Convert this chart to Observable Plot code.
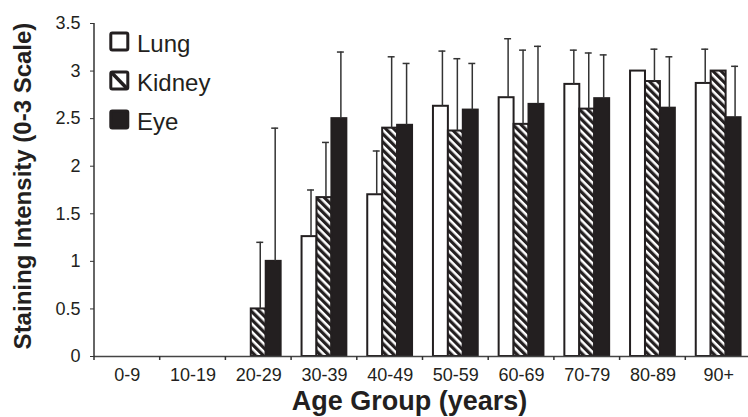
<!DOCTYPE html>
<html>
<head>
<meta charset="utf-8">
<script src="https://cdn.jsdelivr.net/npm/d3@7"></script>
<script src="https://cdn.jsdelivr.net/npm/@observablehq/plot@0.6"></script>
<style>
  body { margin: 0; background: #fff; }
  #chart { width: 748px; height: 417px; overflow: hidden; }
</style>
</head>
<body>
<div id="chart"></div>
<script>
// ---- data ----
const categories = ["0-9", "10-19", "20-29", "30-39", "40-49", "50-59", "60-69", "70-79", "80-89", "90+"];
const series = ["Lung", "Kidney", "Eye"];
const lungValues   = [null, null, null, 1.26, 1.70, 2.63, 2.72, 2.86, 3.00, 2.87];
const lungErrors   = [null, null, null, 0.49, 0.46, 0.58, 0.62, 0.36, null, 0.36];
const kidneyValues = [null, null, 0.50, 1.67, 2.40, 2.37, 2.44, 2.60, 2.89, 3.00];
const kidneyErrors = [null, null, 0.70, 0.58, 0.75, 0.76, 0.78, 0.59, 0.34, null];
const eyeValues    = [null, null, 1.00, 2.50, 2.43, 2.59, 2.65, 2.71, 2.61, 2.51];
const eyeErrors    = [null, null, 1.40, 0.70, 0.65, 0.49, 0.61, 0.46, 0.54, 0.54];
const yTicks = [0, 0.5, 1, 1.5, 2, 2.5, 3, 3.5];
const yTitle = "Staining Intensity (0-3 Scale)";
const xTitle = "Age Group (years)";

const valuesBySeries = [lungValues, kidneyValues, eyeValues];
const errorsBySeries = [lungErrors, kidneyErrors, eyeErrors];

// one row per category x series (missing values stay null so every facet exists)
const rows = [];
categories.forEach((cat, i) => {
  series.forEach((s, j) => {
    const v = valuesBySeries[j][i];
    const e = errorsBySeries[j][i];
    rows.push({cat, series: s, value: v, top: (v != null && e != null) ? v + e : null});
  });
});

const ink = "#231f20";
const font = "'Liberation Sans', Arial, Helvetica, sans-serif";

const plot = Plot.plot({
  width: 748,
  height: 417,
  marginLeft: 94,
  marginRight: -3,
  marginTop: 23,
  marginBottom: 61,
  style: {fontFamily: font, color: ink, background: "white", overflow: "visible"},
  fx: {domain: categories, padding: 0, round: false, label: null},
  x: {domain: series, paddingInner: 0, paddingOuter: 0.7, round: false, axis: null},
  y: {domain: [0, 3.5], label: null},
  color: {domain: series, range: ["white", "url(#hatch)", ink]},
  marks: [
    Plot.axisY({ticks: yTicks, tickSize: 4, tickPadding: 10, fontSize: 18, tickFormat: d => String(d), label: null, stroke: "#333"}),
    Plot.axisFx({anchor: "bottom", tickSize: 0, tickPadding: 12, fontSize: 18, label: null}),
    Plot.barY(rows, {fx: "cat", x: "series", y: "value", fill: "series", stroke: ink, strokeWidth: 2}),
    Plot.ruleX(rows, {fx: "cat", x: "series", y1: "value", y2: "top", stroke: "#333", strokeWidth: 1.5, dx: 1.5}),
    Plot.tickY(rows, {fx: "cat", x: "series", y: "top", stroke: "#333", strokeWidth: 1.5, insetLeft: 4, insetRight: 4, dx: 1.5}),
    Plot.ruleY([0], {stroke: "#444", strokeWidth: 1.5})
  ]
});

document.getElementById("chart").appendChild(plot);

// ---- decorations using the plot's own scales ----
const svg = d3.select(plot);
const defs = svg.insert("defs", ":first-child");
const pat = defs.append("pattern")
  .attr("id", "hatch")
  .attr("patternUnits", "userSpaceOnUse")
  .attr("width", 5.7).attr("height", 20)
  .attr("patternTransform", "rotate(-45)");
pat.append("rect").attr("width", 5.7).attr("height", 20).attr("fill", "white");
pat.append("rect").attr("width", 3.2).attr("height", 20).attr("fill", ink);

const fx = plot.scale("fx");
const y = plot.scale("y");
const y0 = y.apply(0), yTop = y.apply(3.5);
const xLeft = fx.apply(categories[0]);
const step = fx.bandwidth;

// y axis line
svg.append("line").attr("x1", xLeft).attr("x2", xLeft).attr("y1", y0 + 0.75).attr("y2", yTop)
  .attr("stroke", "#333").attr("stroke-width", 1.5);
// boundary ticks on the x axis
categories.concat([null]).forEach((c, i) => {
  const xx = xLeft + i * step;
  svg.append("line").attr("x1", xx).attr("x2", xx).attr("y1", y0).attr("y2", y0 + 4)
    .attr("stroke", "#333").attr("stroke-width", 1.5);
});

// axis titles
svg.append("text")
  .attr("transform", `translate(31,186) rotate(-90)`)
  .attr("text-anchor", "middle")
  .attr("font-family", font).attr("font-weight", "bold").attr("font-size", 24)
  .attr("fill", ink).text(yTitle);
svg.append("text")
  .attr("x", xLeft + step * categories.length / 2 - 13).attr("y", 410)
  .attr("text-anchor", "middle")
  .attr("font-family", font).attr("font-weight", "bold").attr("font-size", 27)
  .attr("fill", ink).text(xTitle);

// legend
const legendFills = ["white", "white", ink];
const lg = svg.append("g");
series.forEach((s, i) => {
  const base = 52 + i * 39;
  const g = lg.append("g");
  g.append("rect").attr("x", 110.8).attr("y", base - 19).attr("width", 17).attr("height", 17)
    .attr("fill", legendFills[i]).attr("stroke", ink).attr("stroke-width", 3).attr("rx", 1.5);
  if (s === "Kidney") {
    g.append("line").attr("x1", 111.5).attr("y1", base - 18.5).attr("x2", 127).attr("y2", base - 2.5)
      .attr("stroke", ink).attr("stroke-width", 3.5);
  }
  g.append("text").attr("x", 137).attr("y", base).attr("text-anchor", "start")
    .attr("font-family", font).attr("font-size", 24).attr("fill", ink).text(s);
});
</script>
</body>
</html>
